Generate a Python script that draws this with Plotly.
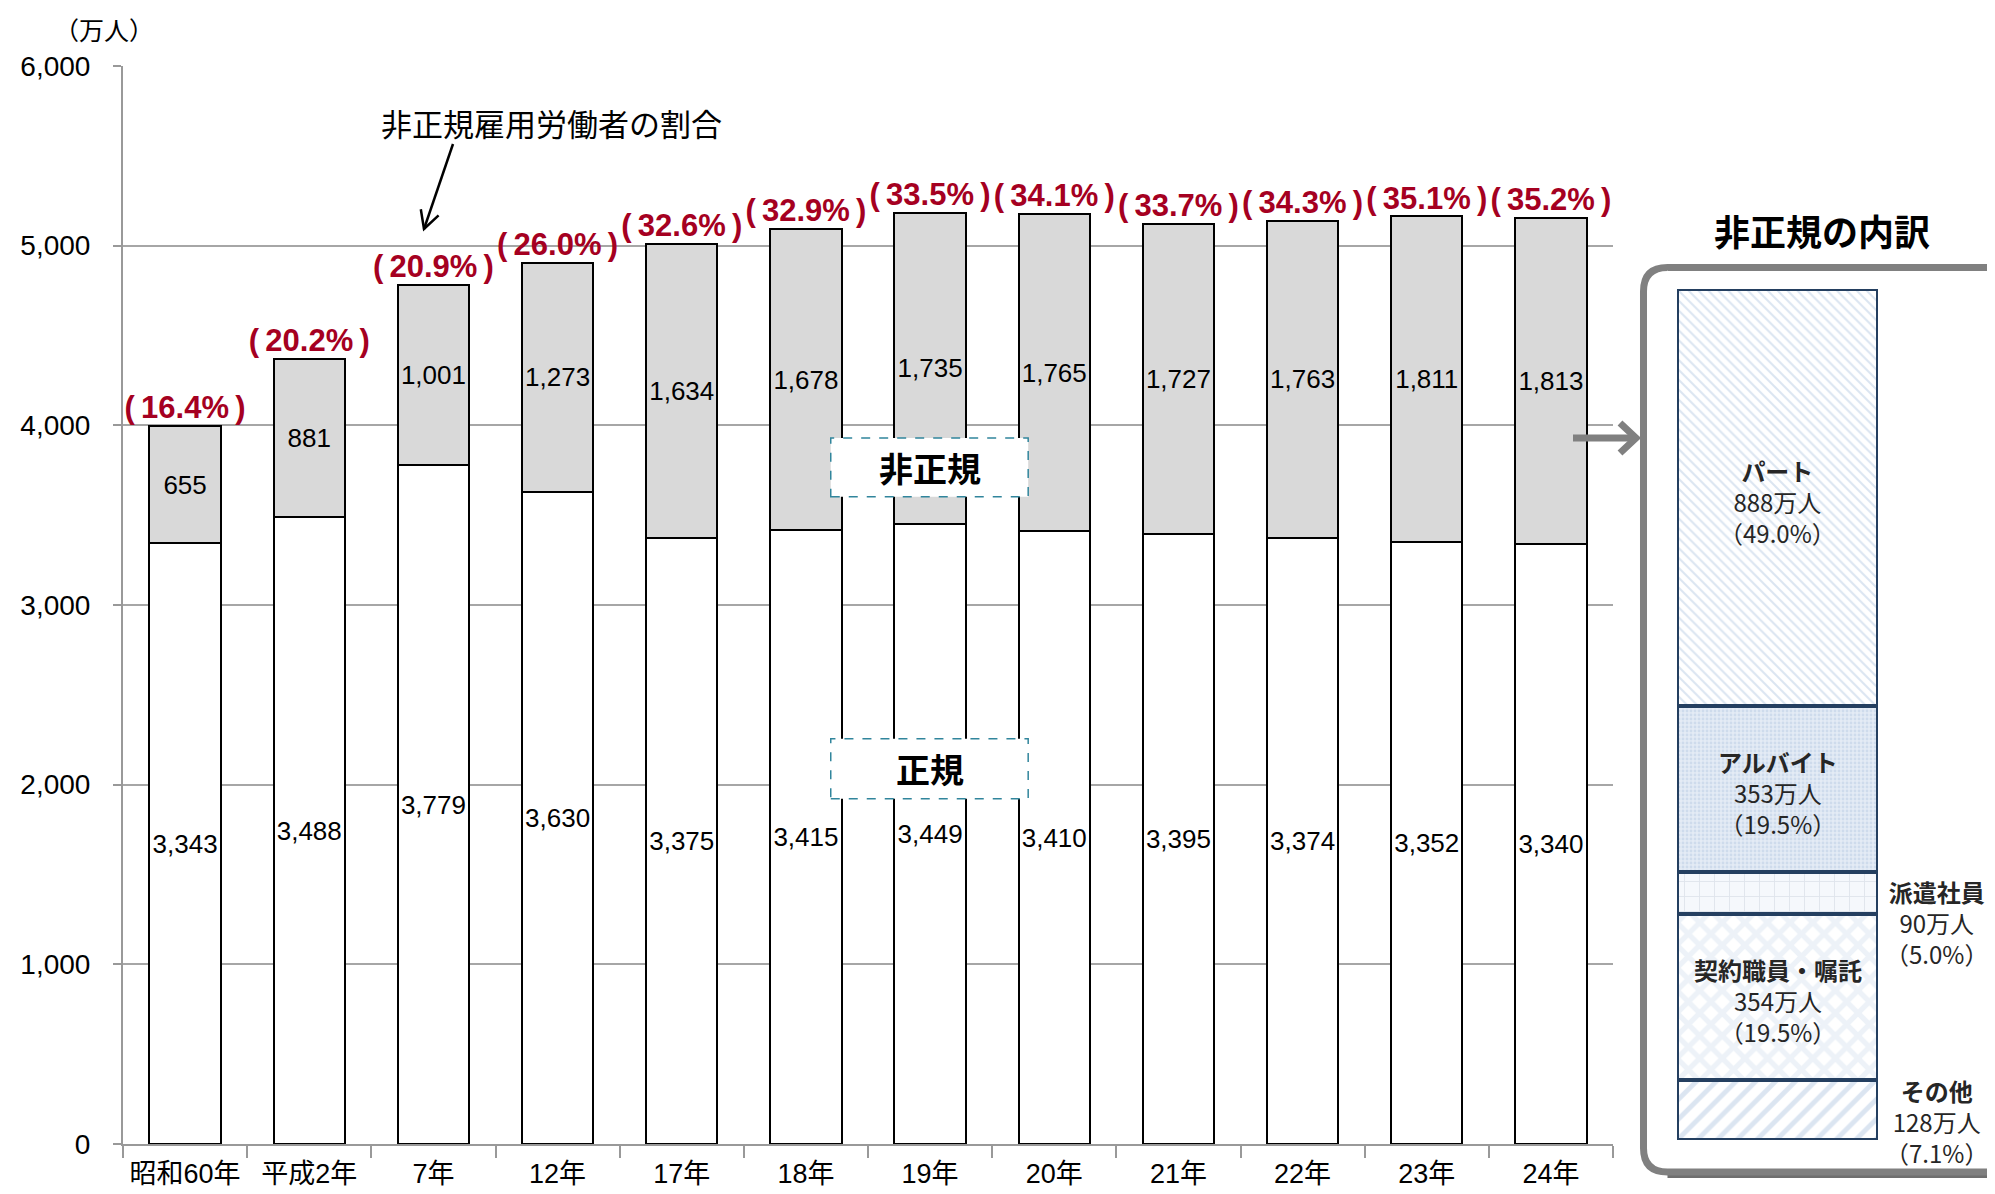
import math
import plotly.graph_objects as go

# ---------------- data ----------------
categories = ["昭和60年", "平成2年", "7年", "12年", "17年", "18年",
              "19年", "20年", "21年", "22年", "23年", "24年"]
regular = [3343, 3488, 3779, 3630, 3375, 3415, 3449, 3410, 3395, 3374, 3352, 3340]
nonregular = [655, 881, 1001, 1273, 1634, 1678, 1735, 1765, 1727, 1763, 1811, 1813]
nonregular_share = [16.4, 20.2, 20.9, 26.0, 32.6, 32.9, 33.5, 34.1, 33.7, 34.3, 35.1, 35.2]

# breakdown of non-regular workers (top to bottom)
breakdown_labels = ["パート", "アルバイト", "派遣社員", "契約職員・嘱託", "その他"]
breakdown_values = [888, 353, 90, 354, 128]
breakdown_share = [49.0, 19.5, 5.0, 19.5, 7.1]

y_ticks = [0, 1000, 2000, 3000, 4000, 5000, 6000]

# ---------------- geometry helpers (window pixels -> paper) ----------------
OFF = 8                      # default body margin of the html page
W, H = 1995 - OFF, 1194 - OFF
ML, MR, MT, MB = 123 - OFF, 0, 66 - OFF, H - (1144 - OFF)
PW, PH = W - ML - MR, H - MT - MB


def px_x(px):
    return (px - OFF - ML) / PW


def px_y(py):
    return (H - MB - (py - OFF)) / PH


LAT = "Liberation Sans, Noto Sans CJK JP, sans-serif"
CJK = "Noto Sans CJK JP, sans-serif"
RED = "#a50021"
NAVY = "#243f60"
GREY = "#808080"

fig = go.Figure()

# main stacked bars
fig.add_trace(go.Bar(
    x=categories, y=regular, name="正規", width=0.575,
    marker=dict(color="white", line=dict(color="black", width=2)),
    texttemplate="%{y:,}", textposition="inside", insidetextanchor="middle",
    textfont=dict(size=26, color="black", family=LAT), constraintext="none",
    xaxis="x", yaxis="y", showlegend=False, hoverinfo="skip"))
fig.add_trace(go.Bar(
    x=categories, y=nonregular, name="非正規", width=0.575,
    marker=dict(color="#d9d9d9", line=dict(color="black", width=2)),
    texttemplate="%{y:,}", textposition="inside", insidetextanchor="middle",
    textfont=dict(size=26, color="black", family=LAT), constraintext="none",
    xaxis="x", yaxis="y", showlegend=False, hoverinfo="skip"))

totals = [r + n for r, n in zip(regular, nonregular)]
fig.add_trace(go.Scatter(
    x=categories, y=totals, mode="text",
    text=["(\u2009{:.1f}%\u2009)".format(p) for p in nonregular_share],
    textposition="top center",
    textfont=dict(size=31, color=RED, family=LAT, weight="bold"),
    cliponaxis=False, showlegend=False, hoverinfo="skip",
    xaxis="x", yaxis="y"))

# breakdown stacked bar (bottom first)
patterns = {
    "パート": dict(shape="\\", fgcolor="#b8cce4", bgcolor="white", size=7, solidity=0.3),
    "アルバイト": dict(shape=".", fgcolor="#b8cce4", bgcolor="#e4ebf5", size=4, solidity=0.4),
    "派遣社員": dict(shape="+", fgcolor="#c8d0dc", bgcolor="#f5f8fc", size=15, solidity=0.12),
    "契約職員・嘱託": dict(shape="x", fgcolor="#dbe5f1", bgcolor="white", size=16, solidity=0.55),
    "その他": dict(shape="/", fgcolor="#b8cce4", bgcolor="white", size=14, solidity=0.35),
}
for lab, val in reversed(list(zip(breakdown_labels, breakdown_values))):
    fig.add_trace(go.Bar(
        x=["内訳"], y=[val], width=1, name=lab,
        marker=dict(color="white", line=dict(color=NAVY, width=4), pattern=patterns[lab]),
        xaxis="x2", yaxis="y2", showlegend=False, hoverinfo="skip"))

fig.update_layout(
    width=W, height=H, barmode="stack",
    margin=dict(l=ML, r=MR, t=MT, b=MB, autoexpand=False),
    paper_bgcolor="white", plot_bgcolor="white",
    font=dict(family=LAT, color="black"),
    xaxis=dict(domain=[0, px_x(1613)], type="category", range=[-0.5, 11.5],
               showline=True, linecolor="#999999", linewidth=2,
               ticks="outside", tickson="boundaries", ticklen=12, tickcolor="#999999",
               tickwidth=1.5, tickfont=dict(size=27, family=LAT), showgrid=False,
               tickangle=0, automargin=False, anchor="y", ticklabelstandoff=5),
    yaxis=dict(domain=[0, 1], range=[0, 6000], tickvals=y_ticks, tickformat=",",
               showline=True, linecolor="#999999", linewidth=2,
               ticks="outside", ticklen=8, tickcolor="#999999", tickwidth=1.5,
               gridcolor="#a6a6a6", gridwidth=1.5, zeroline=False,
               tickfont=dict(size=28, family=LAT), automargin=False, anchor="x",
               ticklabelstandoff=17),
    xaxis2=dict(domain=[px_x(1677), px_x(1878)], type="category", range=[-0.5, 0.5],
                visible=False, anchor="y2"),
    yaxis2=dict(domain=[px_y(1140), px_y(289)], range=[0, sum(breakdown_values)],
                visible=False, anchor="x2"),
)

shapes = []
annotations = []


def note(**kw):
    kw.setdefault("xanchor", "center")
    kw.setdefault("yanchor", "middle")
    kw.setdefault("showarrow", False)
    annotations.append(kw)


# y-axis unit
note(text="（万人）", x=px_x(104), y=px_y(29), xref="paper", yref="paper",
     font=dict(size=25, family=CJK))

# annotation text for share
note(text="非正規雇用労働者の割合", x=px_x(551), y=px_y(122), xref="paper", yref="paper",
     font=dict(size=31, family=CJK))
# black arrow (line + open head)
hx, hy, tx, ty = 424, 229, 453, 144
shapes.append(dict(type="line", xref="paper", yref="paper",
                   x0=px_x(tx), y0=px_y(ty), x1=px_x(hx), y1=px_y(hy),
                   line=dict(color="black", width=2.5)))
dx, dy = hx - tx, hy - ty
L = math.hypot(dx, dy)
rx, ry = -dx / L, -dy / L
arms = []
for ang in (math.radians(28), math.radians(-28)):
    ax_ = rx * math.cos(ang) - ry * math.sin(ang)
    ay_ = rx * math.sin(ang) + ry * math.cos(ang)
    arms.append((hx + 20 * ax_, hy + 20 * ay_))
shapes.append(dict(type="path", xref="paper", yref="paper",
                   path="M {},{} L {},{} L {},{}".format(
                       px_x(arms[0][0]), px_y(arms[0][1]), px_x(hx), px_y(hy),
                       px_x(arms[1][0]), px_y(arms[1][1])),
                   line=dict(color="black", width=2.5)))

# label boxes 非正規 / 正規 (dashed teal border)
for txt, y0, y1 in [("非正規", 3603, 3929), ("正規", 1922, 2255)]:
    shapes.append(dict(type="rect", xref="x", yref="y", x0=5.2, x1=6.79, y0=y0, y1=y1,
                       line=dict(color="#31859c", width=1.5, dash="dash"),
                       fillcolor="white", layer="above"))
    note(text="<b>" + txt + "</b>", x=6, y=(y0 + y1) / 2, xref="x", yref="y",
         font=dict(size=34, family=CJK, color="black"))

# right panel: title
note(text="<b>非正規の内訳</b>", x=px_x(1822), y=px_y(230), xref="paper", yref="paper",
     font=dict(size=36, family=CJK, color="black"))

# rounded frame
l, t, r, b, rad = 1643.5, 267.5, 2040, 1172, 24


def P(x, y):
    return "{:.5f},{:.5f}".format(px_x(x), px_y(y))


frame = ("M " + P(l + rad, t) + " L " + P(r, t) + " L " + P(r, b) + " L " + P(l + rad, b) +
         " Q " + P(l, b) + " " + P(l, b - rad) + " L " + P(l, t + rad) +
         " Q " + P(l, t) + " " + P(l + rad, t))
shadow = "M " + P(l + rad, b + 3) + " L " + P(r, b + 3)
shapes.append(dict(type="path", xref="paper", yref="paper", path=shadow,
                   line=dict(color="#6f6f6f", width=6)))
shapes.append(dict(type="path", xref="paper", yref="paper", path=frame,
                   line=dict(color=GREY, width=7)))

# grey arrow into the frame
shapes.append(dict(type="line", xref="paper", yref="paper",
                   x0=px_x(1573), y0=px_y(438), x1=px_x(1634), y1=px_y(438),
                   line=dict(color=GREY, width=7)))
shapes.append(dict(type="path", xref="paper", yref="paper",
                   path="M " + P(1620, 423) + " L " + P(1636, 438) + " L " + P(1620, 453),
                   line=dict(color=GREY, width=7)))

# breakdown labels
outside_shift = {"派遣社員": -30, "その他": -12}
cum = 0
mids = {}
for lab, val in reversed(list(zip(breakdown_labels, breakdown_values))):
    mids[lab] = cum + val / 2
    cum += val
for lab, val, sh in zip(breakdown_labels, breakdown_values, breakdown_share):
    txt = "<b>{}</b><br>{}万人<br>（{:.1f}%）".format(lab, val, sh)
    if lab in outside_shift:
        note(text=txt, x=0.5, y=mids[lab], xref="x2", yref="y2",
             xanchor="left", xshift=5, yshift=outside_shift[lab], align="center",
             font=dict(size=24, family=CJK, color="#262626"))
    else:
        note(text=txt, x=0, y=mids[lab], xref="x2", yref="y2", align="center", yshift=-4,
             font=dict(size=24, family=CJK, color="#262626"))

fig.update_layout(shapes=shapes, annotations=annotations)
fig.write_html("out.html")
